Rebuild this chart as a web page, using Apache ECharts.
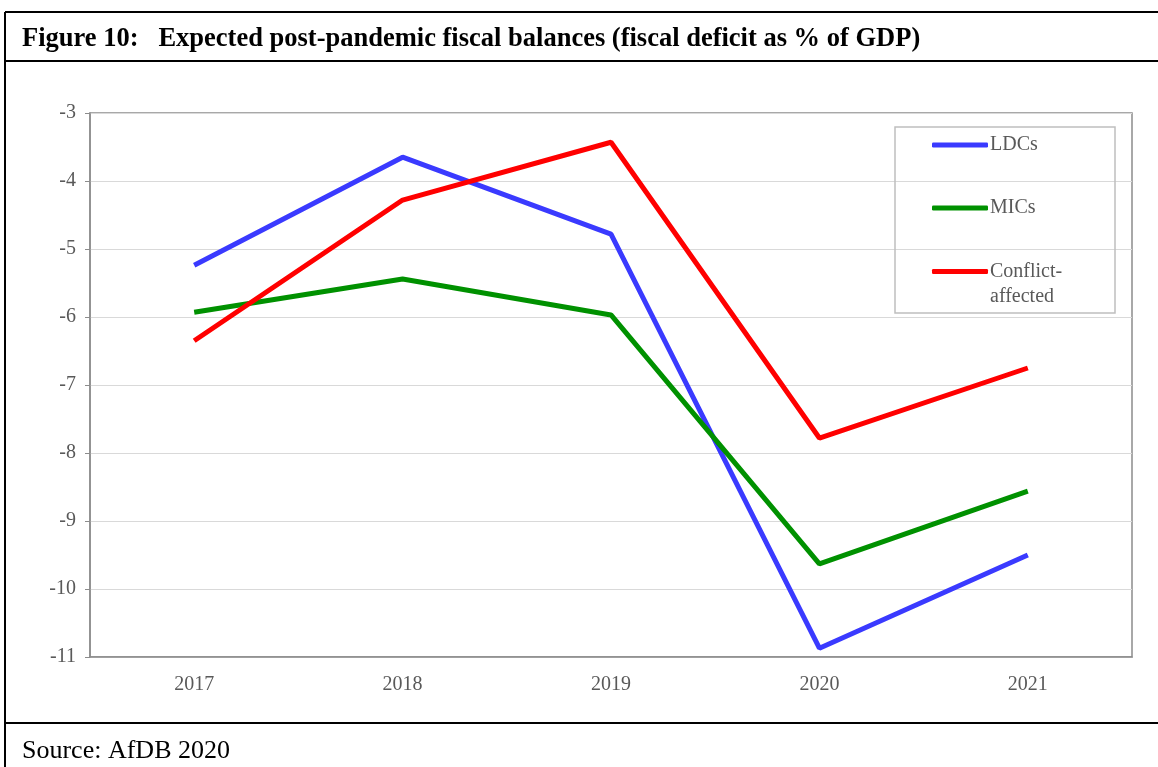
<!DOCTYPE html>
<html><head><meta charset="utf-8">
<script src="https://cdn.jsdelivr.net/npm/echarts@6/dist/echarts.min.js"></script>
<style>html,body{margin:0;padding:0;background:#fff}#c{width:1158px;height:767px}</style>
</head><body><div id="c"></div>
<script>
var years = ['2017','2018','2019','2020','2021'];
var ldcs = [-5.24, -3.65, -4.78, -10.87, -9.5];
var mics = [-5.93, -5.44, -5.97, -9.63, -8.56];
var conflict = [-6.35, -4.28, -3.43, -7.78, -6.75];
var seriesNames = ['LDCs', 'MICs', 'Conflict-affected'];
var yTicks = {min: -11, max: -3, interval: 1};

var serif = '"Liberation Serif","Times New Roman",serif';
var chart = echarts.init(document.getElementById('c'));
var txt = {fontFamily: serif, fontSize: 20, color: '#595959'};
function lg(name, top, extra) {
  return Object.assign({
    data: [name], orient: 'vertical', left: 932, top: top,
    itemWidth: 56, itemHeight: 5, itemGap: 0, padding: 0,
    icon: 'roundRect', selectedMode: false,
    textStyle: Object.assign({}, txt, {padding: [0, 0, 0, -3]})
  }, extra || {});
}
chart.setOption({
  animation: false,
  grid: {left: 90, right: 26, top: 113, bottom: 110, show: true, borderColor: '#8c8c8c', borderWidth: 1.5, containLabel: false},
  xAxis: {
    type: 'category', data: years, boundaryGap: true,
    axisLine: {lineStyle: {color: '#8c8c8c', width: 1.5}},
    axisTick: {show: false},
    axisLabel: Object.assign({}, txt, {margin: 18})
  },
  yAxis: {
    type: 'value', min: yTicks.min, max: yTicks.max, interval: yTicks.interval,
    axisLine: {show: true, lineStyle: {color: '#8c8c8c', width: 1.5}},
    axisTick: {show: true, length: 5, lineStyle: {color: '#8c8c8c'}},
    splitLine: {lineStyle: {color: '#d9d9d9', width: 1.2}},
    axisLabel: Object.assign({}, txt, {margin: 14})
  },
  legend: [
    lg(seriesNames[0], 135),
    lg(seriesNames[1], 198),
    lg(seriesNames[2], 234, {formatter: function(){return '\nConflict-\naffected';},
      textStyle: Object.assign({}, txt, {padding: [0, 0, 0, -3], lineHeight: 25})})
  ],
  series: [
    {name: seriesNames[0], type: 'line', data: ldcs, symbol: 'none', lineStyle: {width: 5, color: '#3a3aff'}, itemStyle: {color: '#3a3aff'}},
    {name: seriesNames[1], type: 'line', data: mics, symbol: 'none', lineStyle: {width: 5, color: '#009100'}, itemStyle: {color: '#009100'}},
    {name: seriesNames[2], type: 'line', data: conflict, symbol: 'none', lineStyle: {width: 5, color: '#ff0000'}, itemStyle: {color: '#ff0000'}}
  ],
  graphic: [
    {type: 'rect', shape: {x: 895, y: 127, width: 220, height: 186}, style: {fill: 'none', stroke: '#bfbfbf', lineWidth: 1.5}, z: 1},
    {type: 'line', shape: {x1: 5, y1: 12, x2: 1158, y2: 12}, style: {stroke: '#000', lineWidth: 2}},
    {type: 'line', shape: {x1: 5, y1: 61, x2: 1158, y2: 61}, style: {stroke: '#000', lineWidth: 2}},
    {type: 'line', shape: {x1: 5, y1: 723, x2: 1158, y2: 723}, style: {stroke: '#000', lineWidth: 2}},
    {type: 'line', shape: {x1: 5, y1: 12, x2: 5, y2: 767}, style: {stroke: '#000', lineWidth: 2}},
    {type: 'text', left: 22, top: 26, style: {text: 'Figure 10:   Expected post-pandemic fiscal balances (fiscal deficit as % of GDP)', font: 'bold 26.5px ' + serif, fill: '#000'}},
    {type: 'text', left: 22, top: 738, style: {text: 'Source: AfDB 2020', font: '26px ' + serif, fill: '#000'}}
  ]
});
</script></body></html>
